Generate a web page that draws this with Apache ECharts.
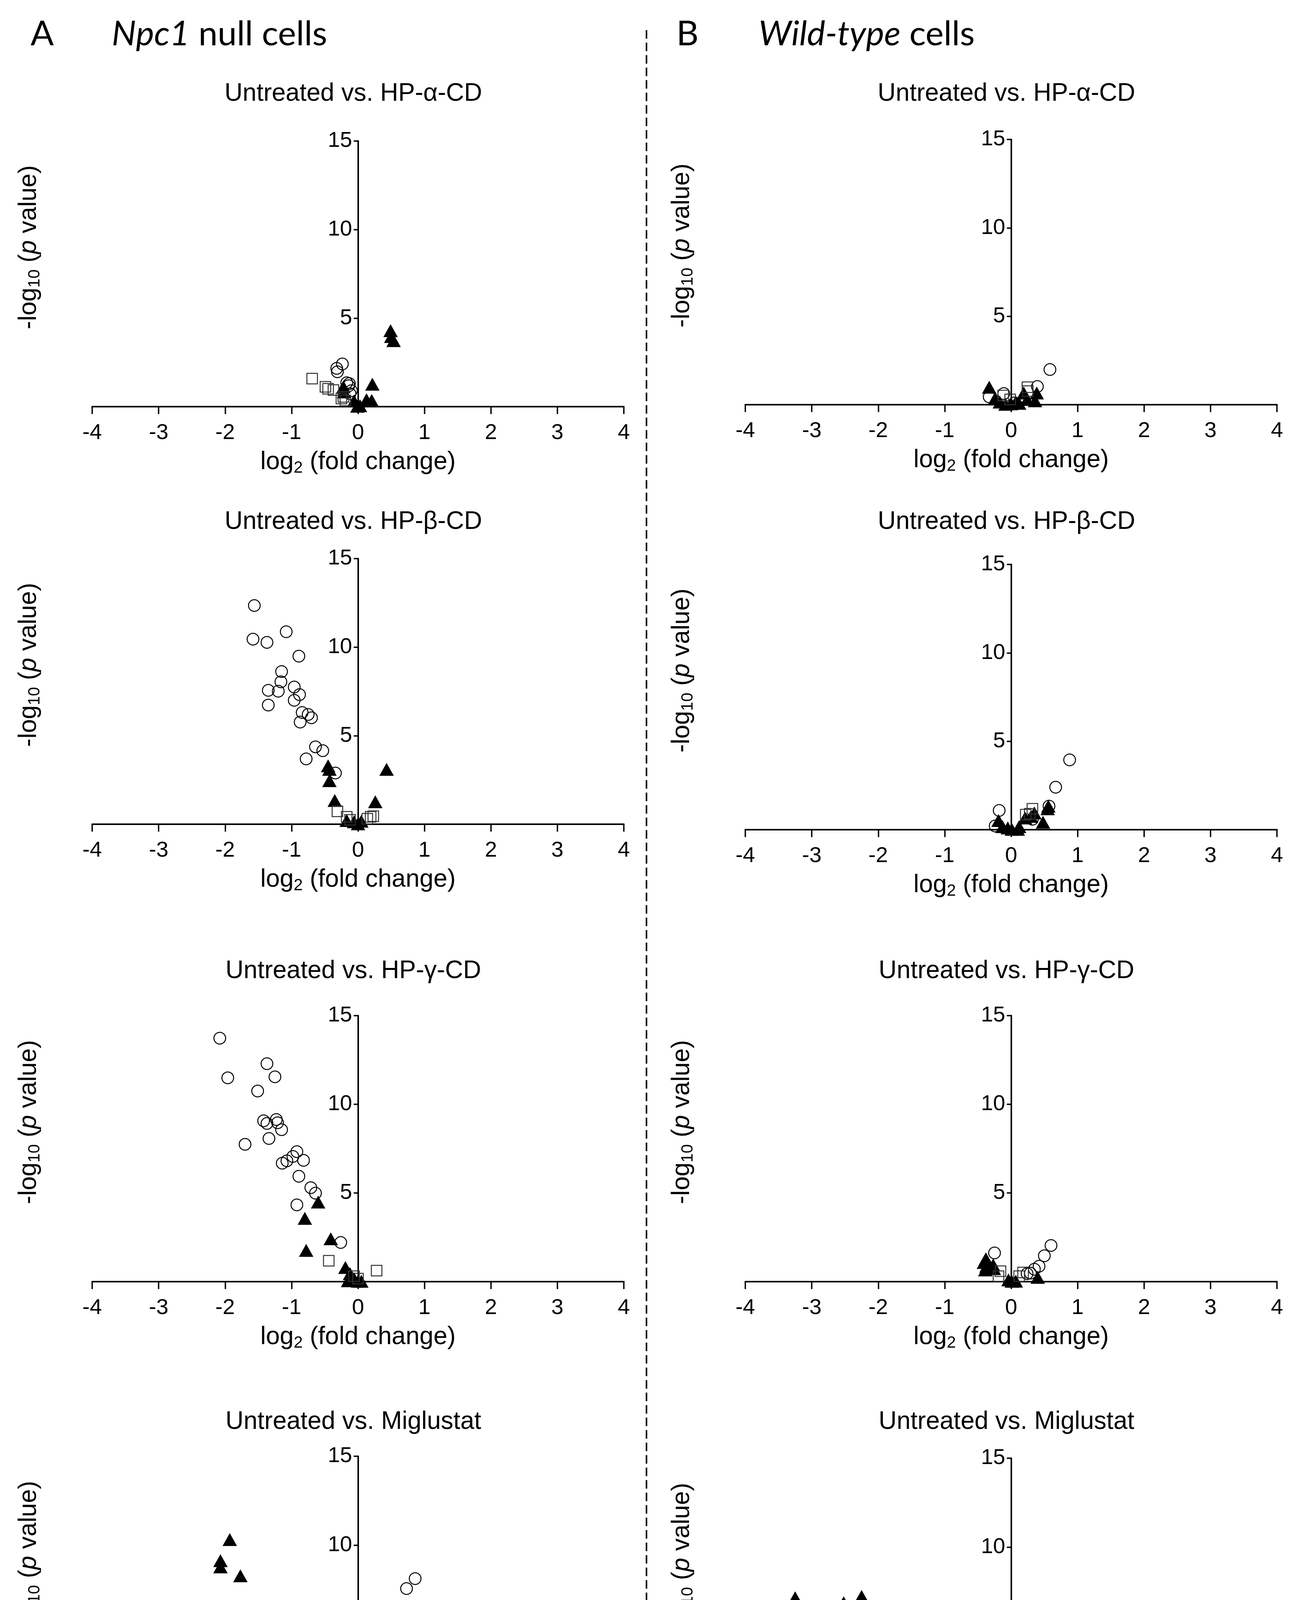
<!DOCTYPE html>
<html>
<head>
<meta charset="utf-8">
<script src="https://cdn.jsdelivr.net/npm/echarts@6/dist/echarts.min.js"></script>
<style>
  html, body { margin: 0; padding: 0; background: #fff; }
  #chart { width: 3328px; height: 4851px; }
</style>
</head>
<body>
<div id="chart"></div>
<script>
// ---- data: [log2 fold change, -log10 p] ----
// Npc1 null cells
var npcAlphaSM  = [[-0.235,2.41],[-0.31,1.97],[-0.32,2.16],[-0.17,1.35],[-0.13,1.30],[-0.14,1.18],[-0.10,0.90],[-0.12,0.72]];
var npcAlphaHex = [[0.49,4.29],[0.50,3.96],[0.535,3.73],[0.216,1.27],[0.128,0.39],[0.206,0.35],[-0.22,1.12],[-0.21,0.83],[-0.06,0.32],[-0.01,0.02],[0.03,0.05]];
var npcAlphaCer = [[-0.69,1.58],[-0.49,1.12],[-0.45,1.01],[-0.37,0.94],[-0.25,0.46],[-0.19,0.35],[-0.22,0.55]];

var npcBetaSM  = [[-1.56,12.35],[-1.58,10.45],[-1.37,10.27],[-1.08,10.87],[-0.89,9.49],[-1.15,8.62],[-1.16,8.04],[-1.35,7.56],[-1.20,7.51],[-0.96,7.75],[-0.88,7.32],[-0.96,7.0],[-1.35,6.73],[-0.84,6.31],[-0.75,6.2],[-0.70,6.01],[-0.87,5.77],[-0.64,4.37],[-0.53,4.15],[-0.78,3.69],[-0.34,2.89]];
var npcBetaHex = [[-0.45,3.3],[-0.43,3.1],[-0.43,2.46],[-0.35,1.34],[0.43,3.1],[0.26,1.27],[-0.17,0.21],[-0.06,0.14],[0.05,0.17],[0.0,0.02]];
var npcBetaCer = [[-0.31,0.73],[-0.17,0.42],[0.19,0.42],[0.23,0.45],[0.14,0.31],[-0.12,0.25]];

var npcGammaSM  = [[-2.08,13.73],[-1.37,12.29],[-1.96,11.49],[-1.25,11.55],[-1.51,10.75],[-1.42,9.07],[-1.37,8.92],[-1.23,9.14],[-1.21,8.96],[-1.15,8.57],[-1.34,8.07],[-1.70,7.74],[-0.92,7.33],[-0.98,7.06],[-1.07,6.81],[-1.14,6.68],[-0.82,6.84],[-0.89,5.94],[-0.71,5.30],[-0.64,4.99],[-0.92,4.33],[-0.26,2.21]];
var npcGammaHex = [[-0.60,4.49],[-0.80,3.57],[-0.41,2.42],[-0.78,1.76],[-0.19,0.80],[-0.12,0.45],[-0.06,0.17],[0.0,0.02],[-0.15,0.05],[0.05,0.02]];
var npcGammaCer = [[-0.44,1.18],[0.28,0.62],[0.0,0.17],[-0.06,0.31]];

var npcMiglSM  = [[0.86,8.11],[0.73,7.55],[0.55,6.2],[0.51,5.68],[0.39,4.77],[0.32,3.79],[0.23,1.96],[0.18,1.6],[0.15,1.4],[0.11,1.01],[-0.15,0.88],[-0.16,0.67],[0.0,0.11]];
var npcMiglHex = [[-1.93,10.31],[-2.07,9.12],[-2.07,8.77],[-1.77,8.27],[-1.76,6.45],[-1.51,6.31],[-1.47,5.99],[-1.10,5.36],[-1.82,5.15],[-1.47,3.25],[-1.19,2.59]];
var npcMiglCer = [[0.98,4.28],[0.56,2.06],[-0.47,1.23],[0.42,1.51],[0.35,1.43],[0.19,0.42],[0.14,0.28],[0.0,0.07],[-0.09,0.21]];

// Wild-type cells
var wtAlphaSM  = [[0.584,1.99],[0.395,1.03],[-0.11,0.63],[-0.33,0.44],[0.05,0.1]];
var wtAlphaHex = [[-0.33,0.99],[-0.24,0.37],[-0.085,0.02],[0.07,0.15],[0.19,0.66],[0.385,0.66],[0.36,0.22],[0.24,0.3],[-0.17,0.15],[0.0,0.05],[0.12,0.08]];
var wtAlphaCer = [[0.245,0.99],[0.25,0.77],[-0.12,0.52],[-0.015,0.30]];

var wtBetaSM  = [[0.88,3.95],[0.67,2.4],[0.57,1.33],[-0.18,1.09],[-0.24,0.21],[0.32,0.59]];
var wtBetaHex = [[0.56,1.33],[0.55,1.18],[0.35,0.95],[0.21,0.66],[0.48,0.42],[-0.19,0.52],[-0.13,0.17],[0.01,0.02],[0.1,0.02],[0.12,0.17],[0.3,0.75],[-0.05,0.1]];
var wtBetaCer = [[0.32,1.18],[0.22,0.85],[0.28,0.9]];

var wtGammaSM  = [[0.60,2.04],[0.50,1.46],[0.42,0.87],[0.35,0.70],[-0.25,1.62],[0.24,0.45],[0.29,0.48]];
var wtGammaHex = [[-0.38,1.29],[-0.41,1.08],[-0.37,0.87],[-0.27,0.94],[-0.26,0.73],[-0.39,0.66],[0.40,0.24],[-0.04,0.1],[0.01,0.02],[0.07,0.03]];
var wtGammaCer = [[-0.16,0.59],[-0.19,0.31],[0.18,0.52],[0.12,0.31]];

var wtMiglSM  = [[0.82,4.42],[0.49,1.11],[0.43,0.58],[0.35,0.87],[0.1,0.59],[-0.47,0.69],[-0.51,0.52],[-0.27,0.35],[-0.16,0.24],[-0.03,0.07],[0.06,0.21]];
var wtMiglHex = [[-3.25,7.14],[-2.25,7.22],[-2.52,6.86],[-2.74,5.64],[-2.75,4.38],[-2.14,4.19],[-2.62,3.77],[-3.0,3.46],[-1.53,3.46],[-2.72,3.0],[-2.18,1.25]];
var wtMiglCer = [[0.80,5.5],[0.60,2.45],[0.29,0.94],[0.22,0.69],[-0.33,0.52],[-0.24,0.41],[-0.13,0.21],[-0.07,0.1]];

var seriesNames = ['sphingomyelins', 'hexosylceramides', 'ceramides'];
var panelTitles = ['Untreated vs. HP-\u03b1-CD', 'Untreated vs. HP-\u03b2-CD', 'Untreated vs. HP-\u03b3-CD', 'Untreated vs. Miglustat'];
var xTicks = {min: -4, max: 4, interval: 1};
var yTicks = {min: 0, max: 15, interval: 5};

// ---- layout ----
var FONT = '"Liberation Sans", Arial, sans-serif';
var HEAD_FONT = 'Lato, "Open Sans", sans-serif';
var panels = [
    {left: 236,  top: 361,  bottom: 1041, titleY: 240,  data: [npcAlphaSM, npcAlphaHex, npcAlphaCer], t: 0},
    {left: 1908, top: 357,  bottom: 1036, titleY: 240,  data: [wtAlphaSM, wtAlphaHex, wtAlphaCer], t: 0},
    {left: 236,  top: 1430, bottom: 2110, titleY: 1336, data: [npcBetaSM, npcBetaHex, npcBetaCer], t: 1},
    {left: 1908, top: 1445, bottom: 2124, titleY: 1336, data: [wtBetaSM, wtBetaHex, wtBetaCer], t: 1},
    {left: 236,  top: 2600, bottom: 3281, titleY: 2486, data: [npcGammaSM, npcGammaHex, npcGammaCer], t: 2},
    {left: 1908, top: 2600, bottom: 3281, titleY: 2486, data: [wtGammaSM, wtGammaHex, wtGammaCer], t: 2},
    {left: 236,  top: 3728, bottom: 4410, titleY: 3640, data: [npcMiglSM, npcMiglHex, npcMiglCer], t: 3},
    {left: 1908, top: 3733, bottom: 4415, titleY: 3640, data: [wtMiglSM, wtMiglHex, wtMiglCer], t: 3}
];
var GRID_W = 1361;

var subRich = {
    n: {fontSize: 64, lineHeight: 68, verticalAlign: 'top', fontFamily: FONT, color: '#000'},
    s: {fontSize: 42, lineHeight: 46, padding: [26, 0, 0, 0], verticalAlign: 'top', fontFamily: FONT, color: '#000'},
    i: {fontSize: 64, lineHeight: 68, verticalAlign: 'top', fontStyle: 'italic', fontFamily: FONT, color: '#000'}
};

// scatter defaults to opacity 0.8, so force solid marks
var markerStyles = [
    {symbol: 'circle', symbolSize: 30, itemStyle: {color: 'rgba(255,255,255,0)', borderColor: '#000', borderWidth: 2.5, opacity: 1}},
    {symbol: 'triangle', symbolSize: [37, 33], itemStyle: {color: '#000', opacity: 1}},
    {symbol: 'rect', symbolSize: 27, itemStyle: {color: 'rgba(255,255,255,0)', borderColor: '#333', borderWidth: 2.5, opacity: 1}}
];

var grids = [], xAxes = [], yAxes = [], series = [], graphics = [];

panels.forEach(function(p, i) {
    grids.push({left: p.left, top: p.top, width: GRID_W, height: p.bottom - p.top});
    xAxes.push({
        gridIndex: i,
        type: 'value',
        min: xTicks.min, max: xTicks.max, interval: xTicks.interval,
        splitLine: {show: false},
        axisLine: {onZero: false, lineStyle: {color: '#000', width: 4}},
        axisTick: {length: 19, lineStyle: {color: '#000', width: 3.5}},
        axisLabel: {fontSize: 56, color: '#000', fontFamily: FONT, margin: 40},
        name: '{n|log}{s|2}{n| (fold change)}',
        nameLocation: 'middle',
        nameGap: 110,
        nameTextStyle: {rich: subRich}
    });
    // y axis sits at x = 0, i.e. half the grid width in from the left edge
    yAxes.push({
        gridIndex: i,
        type: 'value',
        position: 'left',
        offset: -GRID_W / 2,
        min: yTicks.min, max: yTicks.max, interval: yTicks.interval,
        splitLine: {show: false},
        axisLine: {show: true, onZero: false, lineStyle: {color: '#000', width: 4}},
        axisTick: {show: true, length: 11, lineStyle: {color: '#000', width: 3.5}},
        axisLabel: {fontSize: 56, color: '#000', fontFamily: FONT, margin: 15, showMinLabel: false}
    });
    // circles first, then squares, triangles on top
    [0, 2, 1].forEach(function(k) {
        series.push({
            name: seriesNames[k],
            type: 'scatter',
            xAxisIndex: i,
            yAxisIndex: i,
            symbol: markerStyles[k].symbol,
            symbolSize: markerStyles[k].symbolSize,
            itemStyle: markerStyles[k].itemStyle,
            data: p.data[k],
            z: 3 + k
        });
    });
    var cx = p.left + GRID_W / 2;
    graphics.push({
        type: 'text', x: cx - 12, y: p.titleY,
        style: {text: panelTitles[p.t], fontSize: 64, fontFamily: FONT, fill: '#000', align: 'center', verticalAlign: 'middle'}
    });
    graphics.push({
        type: 'text', x: p.left - 160, y: (p.top + p.bottom) / 2 - 68,
        rotation: Math.PI / 2,
        style: {text: '{n|-log}{s|10}{n| (}{i|p}{n| value)}', rich: subRich, align: 'center', verticalAlign: 'middle'}
    });
});

// panel headings and the dashed divider
graphics.push(
    {type: 'text', x: 108, y: 88, style: {text: 'A', fontSize: 88, fontFamily: HEAD_FONT, fill: '#000', align: 'center', verticalAlign: 'middle'}},
    {type: 'text', x: 286, y: 88, style: {
        text: '{i|Npc1} null cells', fontSize: 88, fontFamily: HEAD_FONT, fill: '#000', verticalAlign: 'middle',
        rich: {i: {fontSize: 88, fontFamily: HEAD_FONT, fontStyle: 'italic', color: '#000'}}}},
    {type: 'text', x: 1760, y: 88, style: {text: 'B', fontSize: 88, fontFamily: HEAD_FONT, fill: '#000', align: 'center', verticalAlign: 'middle'}},
    {type: 'text', x: 1942, y: 88, style: {
        text: '{i|Wild-type} cells', fontSize: 88, fontFamily: HEAD_FONT, fill: '#000', verticalAlign: 'middle',
        rich: {i: {fontSize: 88, fontFamily: HEAD_FONT, fontStyle: 'italic', color: '#000'}}}},
    {type: 'line', shape: {x1: 1655, y1: 77, x2: 1655, y2: 4541},
        style: {stroke: '#000', lineWidth: 4, lineDash: [22, 10]}}
);

var chart = echarts.init(document.getElementById('chart'));
chart.setOption({
    animation: false,
    backgroundColor: '#fff',
    grid: grids,
    xAxis: xAxes,
    yAxis: yAxes,
    series: series,
    graphic: graphics,
    legend: {
        data: seriesNames,
        left: 657,
        top: 4745,
        itemWidth: 64,
        itemHeight: 64,
        itemGap: 88,
        selectedMode: false,
        textStyle: {fontSize: 66, fontFamily: FONT, color: '#000', padding: [0, 0, 0, 24]}
    }
});
</script>
</body>
</html>
